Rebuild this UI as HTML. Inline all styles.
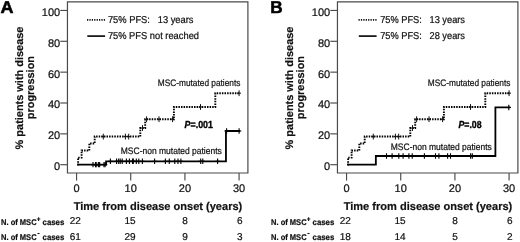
<!DOCTYPE html>
<html><head><meta charset="utf-8"><style>
html,body{margin:0;padding:0;background:#fff;}
body{width:520px;height:242px;overflow:hidden;}
svg{display:block;font-family:"Liberation Sans", sans-serif;text-rendering:geometricPrecision;will-change:transform;}
.r{stroke:#111;stroke-width:0.22px;}
.b{stroke:#111;stroke-width:0.2px;}
.pb{stroke:#000;stroke-width:0.35px;}
</style></head><body>
<svg width="520" height="242" viewBox="0 0 520 242">
<rect width="520" height="242" fill="#fff"/>
<text x="0.60" y="13.1" font-size="17.2" font-weight="bold" fill="#000" stroke="#000" stroke-width="0.55" textLength="13.0" lengthAdjust="spacingAndGlyphs">A</text>
<path d="M67.45 1.85 H247.9 V173.0 H67.45 Z" fill="none" stroke="#4a4a4a" stroke-width="1.2"/>
<line x1="60.3" y1="164.70" x2="67.45" y2="164.70" stroke="#4a4a4a" stroke-width="1.15"/>
<text x="60.2" y="170.10" font-size="11" text-anchor="end" fill="#111" class="r">0</text>
<line x1="60.3" y1="133.85" x2="67.45" y2="133.85" stroke="#4a4a4a" stroke-width="1.15"/>
<text x="60.2" y="139.25" font-size="11" text-anchor="end" fill="#111" class="r">20</text>
<line x1="60.3" y1="103.00" x2="67.45" y2="103.00" stroke="#4a4a4a" stroke-width="1.15"/>
<text x="60.2" y="108.40" font-size="11" text-anchor="end" fill="#111" class="r">40</text>
<line x1="60.3" y1="72.15" x2="67.45" y2="72.15" stroke="#4a4a4a" stroke-width="1.15"/>
<text x="60.2" y="77.55" font-size="11" text-anchor="end" fill="#111" class="r">60</text>
<line x1="60.3" y1="41.30" x2="67.45" y2="41.30" stroke="#4a4a4a" stroke-width="1.15"/>
<text x="60.2" y="46.70" font-size="11" text-anchor="end" fill="#111" class="r">80</text>
<line x1="60.3" y1="10.45" x2="67.45" y2="10.45" stroke="#4a4a4a" stroke-width="1.15"/>
<text x="60.2" y="15.85" font-size="11" text-anchor="end" fill="#111" class="r">100</text>
<line x1="76.55" y1="173.0" x2="76.55" y2="180.6" stroke="#4a4a4a" stroke-width="1.15"/>
<text x="76.55" y="192.1" font-size="11" text-anchor="middle" fill="#111" class="r">0</text>
<line x1="130.73" y1="173.0" x2="130.73" y2="180.6" stroke="#4a4a4a" stroke-width="1.15"/>
<text x="130.73" y="192.1" font-size="11" text-anchor="middle" fill="#111" class="r">10</text>
<line x1="184.91" y1="173.0" x2="184.91" y2="180.6" stroke="#4a4a4a" stroke-width="1.15"/>
<text x="184.91" y="192.1" font-size="11" text-anchor="middle" fill="#111" class="r">20</text>
<line x1="239.09" y1="173.0" x2="239.09" y2="180.6" stroke="#4a4a4a" stroke-width="1.15"/>
<text x="239.09" y="192.1" font-size="11" text-anchor="middle" fill="#111" class="r">30</text>
<text x="73.7" y="209.6" font-size="11.2" font-weight="bold" fill="#111" class="b" textLength="168.6" lengthAdjust="spacingAndGlyphs">Time from disease onset (years)</text>
<text transform="translate(23.0,88.0) rotate(-90)" font-size="10.95" font-weight="bold" fill="#111" class="b" text-anchor="middle">% patients with disease</text>
<text transform="translate(33.9,87.6) rotate(-90)" font-size="10.95" font-weight="bold" fill="#111" class="b" text-anchor="middle">progression</text>
<line x1="87.0" y1="19.9" x2="105.1" y2="19.9" stroke="#111" stroke-width="1.8" stroke-dasharray="1.25 1.15"/>
<line x1="87.3" y1="36.1" x2="105.1" y2="36.1" stroke="#111" stroke-width="1.7"/>
<text x="107.9" y="23" font-size="10" fill="#111" class="r" textLength="85.6" lengthAdjust="spacingAndGlyphs" xml:space="preserve">75% PFS:   13 years</text>
<text x="107.9" y="39.2" font-size="10" fill="#111" class="r" textLength="91.1" lengthAdjust="spacingAndGlyphs" xml:space="preserve">75% PFS not reached</text>
<text x="157.8" y="86.4" font-size="9.4" fill="#111" class="r" textLength="82.6" lengthAdjust="spacingAndGlyphs">MSC-mutated patients</text>
<text x="120.8" y="153.9" font-size="9.4" fill="#111" class="r" textLength="101" lengthAdjust="spacingAndGlyphs">MSC-non mutated patients</text>
<text x="184.6" y="128.3" font-size="10.2" font-weight="bold" fill="#000" class="pb" textLength="28.3" lengthAdjust="spacingAndGlyphs"><tspan font-style="italic">P</tspan>=.001</text>
<path d="M77.4 164.6 H78.1 V157.6 H81.6 V150.5 H89.3 V143.5 H94.7 V136.5 H140.3 V128.0 H145.2 V119.3 H173.9 V107.0 H215.3 V93.3 H240.0" fill="none" stroke="#000" stroke-width="1.9" stroke-dasharray="1.5 1.1"/>
<path d="M103.30 133.70 V139.50 M101.40 136.60 H105.20" stroke="#111" stroke-width="1.0" fill="none"/>
<path d="M125.40 133.70 V139.50 M123.50 136.60 H127.30" stroke="#111" stroke-width="1.0" fill="none"/>
<path d="M128.70 133.70 V139.50 M126.80 136.60 H130.60" stroke="#111" stroke-width="1.0" fill="none"/>
<path d="M142.50 125.10 V130.90 M140.60 128.00 H144.40" stroke="#111" stroke-width="1.0" fill="none"/>
<path d="M146.60 116.30 V122.10 M144.70 119.20 H148.50" stroke="#111" stroke-width="1.0" fill="none"/>
<path d="M159.00 116.30 V122.10 M157.10 119.20 H160.90" stroke="#111" stroke-width="1.0" fill="none"/>
<path d="M172.60 116.30 V122.10 M170.70 119.20 H174.50" stroke="#111" stroke-width="1.0" fill="none"/>
<path d="M200.50 104.10 V109.90 M198.60 107.00 H202.40" stroke="#111" stroke-width="1.0" fill="none"/>
<path d="M239.10 90.30 V96.10 M237.20 93.20 H241.00" stroke="#111" stroke-width="1.0" fill="none"/>
<path d="M77.2 164.6 H106.1 V161.3 H225.95 V131.0 H240.2" fill="none" stroke="#000" stroke-width="1.8"/>
<path d="M93.00 161.90 V167.30 M90.80 164.60 H95.20" stroke="#000" stroke-width="1.1" fill="none"/>
<path d="M95.50 161.90 V167.30 M93.30 164.60 H97.70" stroke="#000" stroke-width="1.1" fill="none"/>
<path d="M96.20 161.90 V167.30 M94.00 164.60 H98.40" stroke="#000" stroke-width="1.1" fill="none"/>
<path d="M98.40 161.90 V167.30 M96.20 164.60 H100.60" stroke="#000" stroke-width="1.1" fill="none"/>
<path d="M99.60 161.90 V167.30 M97.40 164.60 H101.80" stroke="#000" stroke-width="1.1" fill="none"/>
<path d="M104.00 161.90 V167.30 M101.80 164.60 H106.20" stroke="#000" stroke-width="1.1" fill="none"/>
<path d="M105.10 161.90 V167.30 M102.90 164.60 H107.30" stroke="#000" stroke-width="1.1" fill="none"/>
<path d="M110.40 158.60 V164.00 M108.20 161.30 H112.60" stroke="#000" stroke-width="1.1" fill="none"/>
<path d="M116.60 158.60 V164.00 M114.40 161.30 H118.80" stroke="#000" stroke-width="1.1" fill="none"/>
<path d="M118.70 158.60 V164.00 M116.50 161.30 H120.90" stroke="#000" stroke-width="1.1" fill="none"/>
<path d="M120.20 158.60 V164.00 M118.00 161.30 H122.40" stroke="#000" stroke-width="1.1" fill="none"/>
<path d="M122.20 158.60 V164.00 M120.00 161.30 H124.40" stroke="#000" stroke-width="1.1" fill="none"/>
<path d="M126.40 158.60 V164.00 M124.20 161.30 H128.60" stroke="#000" stroke-width="1.1" fill="none"/>
<path d="M129.40 158.60 V164.00 M127.20 161.30 H131.60" stroke="#000" stroke-width="1.1" fill="none"/>
<path d="M132.60 158.60 V164.00 M130.40 161.30 H134.80" stroke="#000" stroke-width="1.1" fill="none"/>
<path d="M133.30 158.60 V164.00 M131.10 161.30 H135.50" stroke="#000" stroke-width="1.1" fill="none"/>
<path d="M136.30 158.60 V164.00 M134.10 161.30 H138.50" stroke="#000" stroke-width="1.1" fill="none"/>
<path d="M138.80 158.60 V164.00 M136.60 161.30 H141.00" stroke="#000" stroke-width="1.1" fill="none"/>
<path d="M142.40 158.60 V164.00 M140.20 161.30 H144.60" stroke="#000" stroke-width="1.1" fill="none"/>
<path d="M154.60 158.60 V164.00 M152.40 161.30 H156.80" stroke="#000" stroke-width="1.1" fill="none"/>
<path d="M165.40 158.60 V164.00 M163.20 161.30 H167.60" stroke="#000" stroke-width="1.1" fill="none"/>
<path d="M169.30 158.60 V164.00 M167.10 161.30 H171.50" stroke="#000" stroke-width="1.1" fill="none"/>
<path d="M174.80 158.60 V164.00 M172.60 161.30 H177.00" stroke="#000" stroke-width="1.1" fill="none"/>
<path d="M178.00 158.60 V164.00 M175.80 161.30 H180.20" stroke="#000" stroke-width="1.1" fill="none"/>
<path d="M180.90 158.60 V164.00 M178.70 161.30 H183.10" stroke="#000" stroke-width="1.1" fill="none"/>
<path d="M200.70 158.60 V164.00 M198.50 161.30 H202.90" stroke="#000" stroke-width="1.1" fill="none"/>
<path d="M202.80 158.60 V164.00 M200.60 161.30 H205.00" stroke="#000" stroke-width="1.1" fill="none"/>
<path d="M217.60 158.60 V164.00 M215.40 161.30 H219.80" stroke="#000" stroke-width="1.1" fill="none"/>
<path d="M226.60 128.30 V133.70 M224.40 131.00 H228.80" stroke="#000" stroke-width="1.1" fill="none"/>
<path d="M239.10 128.30 V133.70 M236.90 131.00 H241.30" stroke="#000" stroke-width="1.1" fill="none"/>
<text x="1.0" y="224.5" font-size="8.3" font-weight="bold" fill="#111" class="r" textLength="35.6" lengthAdjust="spacingAndGlyphs">N. of MSC</text>
<text x="42.6" y="224.5" font-size="8.3" font-weight="bold" fill="#111" class="r" textLength="21.7" lengthAdjust="spacingAndGlyphs">cases</text>
<path d="M38.6 217.2 V220.9 M36.9 219.05 H40.3" stroke="#1e1e1e" stroke-width="1.1" fill="none"/>
<text x="1.0" y="240.2" font-size="8.3" font-weight="bold" fill="#111" class="r" textLength="35.6" lengthAdjust="spacingAndGlyphs">N. of MSC</text>
<text x="42.6" y="240.2" font-size="8.3" font-weight="bold" fill="#111" class="r" textLength="21.7" lengthAdjust="spacingAndGlyphs">cases</text>
<path d="M37.4 233.5 H39.6" stroke="#1e1e1e" stroke-width="1.1" fill="none"/>
<text x="75.20" y="224.1" font-size="10" text-anchor="middle" fill="#111" class="r">22</text>
<text x="75.20" y="240.0" font-size="10" text-anchor="middle" fill="#111" class="r">61</text>
<text x="130.10" y="224.1" font-size="10" text-anchor="middle" fill="#111" class="r">15</text>
<text x="130.10" y="240.0" font-size="10" text-anchor="middle" fill="#111" class="r">29</text>
<text x="185.00" y="224.1" font-size="10" text-anchor="middle" fill="#111" class="r">8</text>
<text x="185.00" y="240.0" font-size="10" text-anchor="middle" fill="#111" class="r">9</text>
<text x="239.90" y="224.1" font-size="10" text-anchor="middle" fill="#111" class="r">6</text>
<text x="239.90" y="240.0" font-size="10" text-anchor="middle" fill="#111" class="r">3</text>
<text x="270.30" y="13.1" font-size="17.2" font-weight="bold" fill="#000" stroke="#000" stroke-width="0.55" textLength="12.4" lengthAdjust="spacingAndGlyphs">B</text>
<path d="M337.45 1.85 H517.9 V173.0 H337.45 Z" fill="none" stroke="#4a4a4a" stroke-width="1.2"/>
<line x1="330.3" y1="164.70" x2="337.45" y2="164.70" stroke="#4a4a4a" stroke-width="1.15"/>
<text x="330.2" y="170.10" font-size="11" text-anchor="end" fill="#111" class="r">0</text>
<line x1="330.3" y1="133.85" x2="337.45" y2="133.85" stroke="#4a4a4a" stroke-width="1.15"/>
<text x="330.2" y="139.25" font-size="11" text-anchor="end" fill="#111" class="r">20</text>
<line x1="330.3" y1="103.00" x2="337.45" y2="103.00" stroke="#4a4a4a" stroke-width="1.15"/>
<text x="330.2" y="108.40" font-size="11" text-anchor="end" fill="#111" class="r">40</text>
<line x1="330.3" y1="72.15" x2="337.45" y2="72.15" stroke="#4a4a4a" stroke-width="1.15"/>
<text x="330.2" y="77.55" font-size="11" text-anchor="end" fill="#111" class="r">60</text>
<line x1="330.3" y1="41.30" x2="337.45" y2="41.30" stroke="#4a4a4a" stroke-width="1.15"/>
<text x="330.2" y="46.70" font-size="11" text-anchor="end" fill="#111" class="r">80</text>
<line x1="330.3" y1="10.45" x2="337.45" y2="10.45" stroke="#4a4a4a" stroke-width="1.15"/>
<text x="330.2" y="15.85" font-size="11" text-anchor="end" fill="#111" class="r">100</text>
<line x1="346.55" y1="173.0" x2="346.55" y2="180.6" stroke="#4a4a4a" stroke-width="1.15"/>
<text x="346.55" y="192.1" font-size="11" text-anchor="middle" fill="#111" class="r">0</text>
<line x1="400.73" y1="173.0" x2="400.73" y2="180.6" stroke="#4a4a4a" stroke-width="1.15"/>
<text x="400.73" y="192.1" font-size="11" text-anchor="middle" fill="#111" class="r">10</text>
<line x1="454.91" y1="173.0" x2="454.91" y2="180.6" stroke="#4a4a4a" stroke-width="1.15"/>
<text x="454.91" y="192.1" font-size="11" text-anchor="middle" fill="#111" class="r">20</text>
<line x1="509.09" y1="173.0" x2="509.09" y2="180.6" stroke="#4a4a4a" stroke-width="1.15"/>
<text x="509.09" y="192.1" font-size="11" text-anchor="middle" fill="#111" class="r">30</text>
<text x="343.7" y="209.6" font-size="11.2" font-weight="bold" fill="#111" class="b" textLength="168.6" lengthAdjust="spacingAndGlyphs">Time from disease onset (years)</text>
<text transform="translate(293.0,88.0) rotate(-90)" font-size="10.95" font-weight="bold" fill="#111" class="b" text-anchor="middle">% patients with disease</text>
<text transform="translate(303.9,87.6) rotate(-90)" font-size="10.95" font-weight="bold" fill="#111" class="b" text-anchor="middle">progression</text>
<line x1="358.5" y1="19.9" x2="376.6" y2="19.9" stroke="#111" stroke-width="1.8" stroke-dasharray="1.25 1.15"/>
<line x1="358.8" y1="36.1" x2="376.6" y2="36.1" stroke="#111" stroke-width="1.7"/>
<text x="380.2" y="23" font-size="10" fill="#111" class="r" textLength="84.8" lengthAdjust="spacingAndGlyphs" xml:space="preserve">75% PFS:   13 years</text>
<text x="380.2" y="39.2" font-size="10" fill="#111" class="r" textLength="84.8" lengthAdjust="spacingAndGlyphs" xml:space="preserve">75% PFS:   28 years</text>
<text x="427.8" y="86.4" font-size="9.4" fill="#111" class="r" textLength="82.6" lengthAdjust="spacingAndGlyphs">MSC-mutated patients</text>
<text x="390.8" y="149.7" font-size="9.4" fill="#111" class="r" textLength="101" lengthAdjust="spacingAndGlyphs">MSC-non mutated patients</text>
<text x="458.5" y="128.3" font-size="10.2" font-weight="bold" fill="#000" class="pb" textLength="23.1" lengthAdjust="spacingAndGlyphs"><tspan font-style="italic">P</tspan>=.08</text>
<path d="M347.4 164.6 H348.1 V157.6 H351.6 V150.5 H359.3 V143.5 H364.7 V136.5 H410.3 V128.0 H415.2 V119.3 H443.9 V107.0 H485.3 V93.3 H510.0" fill="none" stroke="#000" stroke-width="1.9" stroke-dasharray="1.5 1.1"/>
<path d="M373.30 133.70 V139.50 M371.40 136.60 H375.20" stroke="#111" stroke-width="1.0" fill="none"/>
<path d="M395.40 133.70 V139.50 M393.50 136.60 H397.30" stroke="#111" stroke-width="1.0" fill="none"/>
<path d="M398.70 133.70 V139.50 M396.80 136.60 H400.60" stroke="#111" stroke-width="1.0" fill="none"/>
<path d="M412.50 125.10 V130.90 M410.60 128.00 H414.40" stroke="#111" stroke-width="1.0" fill="none"/>
<path d="M416.60 116.30 V122.10 M414.70 119.20 H418.50" stroke="#111" stroke-width="1.0" fill="none"/>
<path d="M429.00 116.30 V122.10 M427.10 119.20 H430.90" stroke="#111" stroke-width="1.0" fill="none"/>
<path d="M442.60 116.30 V122.10 M440.70 119.20 H444.50" stroke="#111" stroke-width="1.0" fill="none"/>
<path d="M470.50 104.10 V109.90 M468.60 107.00 H472.40" stroke="#111" stroke-width="1.0" fill="none"/>
<path d="M509.10 90.30 V96.10 M507.20 93.20 H511.00" stroke="#111" stroke-width="1.0" fill="none"/>
<path d="M347.2 164.55 H375.85 V156.0 H495.4 V107.45 H510.4" fill="none" stroke="#000" stroke-width="1.8"/>
<path d="M386.50 153.30 V158.70 M384.30 156.00 H388.70" stroke="#000" stroke-width="1.1" fill="none"/>
<path d="M392.10 153.30 V158.70 M389.90 156.00 H394.30" stroke="#000" stroke-width="1.1" fill="none"/>
<path d="M398.80 153.30 V158.70 M396.60 156.00 H401.00" stroke="#000" stroke-width="1.1" fill="none"/>
<path d="M403.10 153.30 V158.70 M400.90 156.00 H405.30" stroke="#000" stroke-width="1.1" fill="none"/>
<path d="M408.90 153.30 V158.70 M406.70 156.00 H411.10" stroke="#000" stroke-width="1.1" fill="none"/>
<path d="M412.20 153.30 V158.70 M410.00 156.00 H414.40" stroke="#000" stroke-width="1.1" fill="none"/>
<path d="M424.40 153.30 V158.70 M422.20 156.00 H426.60" stroke="#000" stroke-width="1.1" fill="none"/>
<path d="M435.50 153.30 V158.70 M433.30 156.00 H437.70" stroke="#000" stroke-width="1.1" fill="none"/>
<path d="M438.90 153.30 V158.70 M436.70 156.00 H441.10" stroke="#000" stroke-width="1.1" fill="none"/>
<path d="M447.60 153.30 V158.70 M445.40 156.00 H449.80" stroke="#000" stroke-width="1.1" fill="none"/>
<path d="M450.50 153.30 V158.70 M448.30 156.00 H452.70" stroke="#000" stroke-width="1.1" fill="none"/>
<path d="M470.60 153.30 V158.70 M468.40 156.00 H472.80" stroke="#000" stroke-width="1.1" fill="none"/>
<path d="M472.30 153.30 V158.70 M470.10 156.00 H474.50" stroke="#000" stroke-width="1.1" fill="none"/>
<path d="M508.80 104.75 V110.15 M506.60 107.45 H511.00" stroke="#000" stroke-width="1.1" fill="none"/>
<text x="271.0" y="224.5" font-size="8.3" font-weight="bold" fill="#111" class="r" textLength="35.6" lengthAdjust="spacingAndGlyphs">N. of MSC</text>
<text x="312.6" y="224.5" font-size="8.3" font-weight="bold" fill="#111" class="r" textLength="21.7" lengthAdjust="spacingAndGlyphs">cases</text>
<path d="M308.6 217.2 V220.9 M306.9 219.05 H310.3" stroke="#1e1e1e" stroke-width="1.1" fill="none"/>
<text x="271.0" y="240.2" font-size="8.3" font-weight="bold" fill="#111" class="r" textLength="35.6" lengthAdjust="spacingAndGlyphs">N. of MSC</text>
<text x="312.6" y="240.2" font-size="8.3" font-weight="bold" fill="#111" class="r" textLength="21.7" lengthAdjust="spacingAndGlyphs">cases</text>
<path d="M307.4 233.5 H309.6" stroke="#1e1e1e" stroke-width="1.1" fill="none"/>
<text x="345.20" y="224.1" font-size="10" text-anchor="middle" fill="#111" class="r">22</text>
<text x="345.20" y="240.0" font-size="10" text-anchor="middle" fill="#111" class="r">18</text>
<text x="400.10" y="224.1" font-size="10" text-anchor="middle" fill="#111" class="r">15</text>
<text x="400.10" y="240.0" font-size="10" text-anchor="middle" fill="#111" class="r">14</text>
<text x="455.00" y="224.1" font-size="10" text-anchor="middle" fill="#111" class="r">8</text>
<text x="455.00" y="240.0" font-size="10" text-anchor="middle" fill="#111" class="r">5</text>
<text x="509.90" y="224.1" font-size="10" text-anchor="middle" fill="#111" class="r">6</text>
<text x="509.90" y="240.0" font-size="10" text-anchor="middle" fill="#111" class="r">2</text>
</svg>
</body></html>
